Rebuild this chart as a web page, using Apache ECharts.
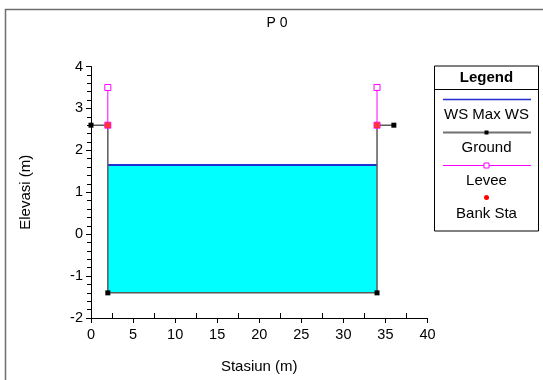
<!DOCTYPE html>
<html>
<head>
<meta charset="utf-8">
<script src="https://cdn.jsdelivr.net/npm/echarts@6/dist/echarts.min.js"></script>
<style>
html,body{margin:0;padding:0;background:#fff;}
#c{width:543px;height:380px;}
</style>
</head>
<body>
<div id="c"></div>
<script>
// ---- data ----
const chartTitle = 'P 0';
const xName = 'Stasiun (m)';
const yName = 'Elevasi (m)';
const groundX = [0, 2, 2, 34, 34, 36];
const groundY = [2.6, 2.6, -1.4, -1.4, 2.6, 2.6];
const leveeLeftX = [2, 2];
const leveeLeftY = [2.6, 3.5];
const leveeRightX = [34, 34];
const leveeRightY = [2.6, 3.5];
const bankX = [2, 34];
const bankY = [2.6, 2.6];
const wsX = [2, 34];
const wsY = [1.65, 1.65];
const wsBottom = -1.4;
const legendNames = ['WS Max WS', 'Ground', 'Levee', 'Bank Sta'];
const xTicks = [0, 5, 10, 15, 20, 25, 30, 35, 40];
const yTicks = [-2, -1, 0, 1, 2, 3, 4];

const FONT = '"Liberation Sans", Arial, sans-serif';
const pairs = (xs, ys) => xs.map((x, i) => [x, ys[i]]);

const chart = echarts.init(document.getElementById('c'), null, {renderer: 'canvas'});

const LX = 434.5, LW = 104, LY = 66, LH = 165, LC = LX + LW / 2;
const legendGraphics = [
  {type: 'rect', shape: {x: LX, y: LY, width: LW, height: LH}, style: {fill: '#fff', stroke: '#000', lineWidth: 1}, z: 10},
  {type: 'line', shape: {x1: LX, y1: 89.5, x2: LX + LW, y2: 89.5}, style: {stroke: '#000', lineWidth: 1}, z: 11},
  {type: 'text', x: LC, y: 77.5, style: {text: 'Legend', font: 'bold 15px ' + FONT, fill: '#000', align: 'center', verticalAlign: 'middle'}, z: 11},
  // WS
  {type: 'line', shape: {x1: 443, y1: 99.5, x2: 531, y2: 99.5}, style: {stroke: '#1f2fd0', lineWidth: 1.5}, z: 11},
  {type: 'text', x: LC, y: 114.5, style: {text: legendNames[0], font: '15px ' + FONT, fill: '#000', align: 'center', verticalAlign: 'middle'}, z: 11},
  // Ground
  {type: 'line', shape: {x1: 443, y1: 132.5, x2: 531, y2: 132.5}, style: {stroke: '#707070', lineWidth: 2}, z: 11},
  {type: 'rect', shape: {x: LC - 2, y: 130.5, width: 4, height: 4}, style: {fill: '#000'}, z: 12},
  {type: 'text', x: LC, y: 147.5, style: {text: legendNames[1], font: '15px ' + FONT, fill: '#000', align: 'center', verticalAlign: 'middle'}, z: 11},
  // Levee
  {type: 'line', shape: {x1: 443, y1: 165.5, x2: 531, y2: 165.5}, style: {stroke: '#ff00ff', lineWidth: 1}, z: 11},
  {type: 'rect', shape: {x: LC - 2.5, y: 163, width: 5, height: 5}, style: {fill: '#fff', stroke: '#ff00ff', lineWidth: 1}, z: 12},
  {type: 'text', x: LC, y: 180.5, style: {text: legendNames[2], font: '15px ' + FONT, fill: '#000', align: 'center', verticalAlign: 'middle'}, z: 11},
  // Bank Sta
  {type: 'circle', shape: {cx: LC, cy: 197.5, r: 2.5}, style: {fill: '#ff0000'}, z: 11},
  {type: 'text', x: LC, y: 213.5, style: {text: legendNames[3], font: '15px ' + FONT, fill: '#000', align: 'center', verticalAlign: 'middle'}, z: 11}
];

const option = {
  backgroundColor: '#fff',
  animation: false,
  textStyle: {fontFamily: FONT},
  grid: {left: 91, right: 115.5, top: 66.5, bottom: 62, containLabel: false},
  graphic: [
    {type: 'rect', shape: {x: 5.5, y: 9.5, width: 700, height: 500}, style: {fill: 'none', stroke: '#6e6e6e', lineWidth: 1.5}, z: 1},
    {type: 'text', x: 277, y: 23, style: {text: chartTitle, font: '14px ' + FONT, fill: '#000', align: 'center', verticalAlign: 'middle'}, z: 5}
  ].concat(legendGraphics),
  xAxis: [{
    type: 'value', min: xTicks[0], max: xTicks[xTicks.length - 1], interval: xTicks[1] - xTicks[0],
    name: xName, nameLocation: 'middle', nameGap: 41,
    nameTextStyle: {fontSize: 15, color: '#000', fontFamily: FONT},
    axisLine: {show: true, onZero: false, lineStyle: {color: '#000', width: 1}},
    axisTick: {show: true, length: 5, lineStyle: {color: '#000'}},
    axisLabel: {fontSize: 14.5, color: '#000', margin: 9, fontFamily: FONT},
    splitLine: {show: false}
  }, {
    type: 'value', position: 'bottom', min: xTicks[0], max: xTicks[xTicks.length - 1], interval: (xTicks[1] - xTicks[0]) / 2,
    axisLine: {show: false, onZero: false},
    axisTick: {show: true, inside: true, length: 5, lineStyle: {color: '#000'},
      customValues: xTicks.slice(0, -1).map(v => v + (xTicks[1] - xTicks[0]) / 2)},
    axisLabel: {show: false},
    splitLine: {show: false}
  }],
  yAxis: {
    type: 'value', min: yTicks[0], max: yTicks[yTicks.length - 1], interval: yTicks[1] - yTicks[0],
    name: yName, nameLocation: 'middle', nameGap: 58, nameRotate: 90,
    nameTextStyle: {fontSize: 15, color: '#000', fontFamily: FONT},
    axisLine: {show: true, onZero: false, lineStyle: {color: '#000', width: 1}},
    axisTick: {show: true, length: 5, lineStyle: {color: '#000'}},
    minorTick: {show: true, splitNumber: 5, length: 4, lineStyle: {color: '#000'}},
    axisLabel: {fontSize: 14.5, color: '#000', margin: 8, fontFamily: FONT},
    splitLine: {show: false}
  },
  series: [
    {
      name: 'WS fill', type: 'custom', xAxisIndex: 0, silent: true, z: 1,
      data: [[wsX[0], wsX[1], wsBottom, wsY[0]]],
      encode: {x: [0, 1], y: [2, 3]},
      renderItem: function (params, api) {
        const p1 = api.coord([api.value(0), api.value(3)]);
        const p2 = api.coord([api.value(1), api.value(2)]);
        return {type: 'rect', shape: {x: p1[0], y: p1[1], width: p2[0] - p1[0], height: p2[1] - p1[1]}, style: {fill: '#00ffff'}};
      }
    },
    {
      name: legendNames[0], type: 'line', xAxisIndex: 0, z: 3, showSymbol: false,
      data: pairs(wsX, wsY),
      lineStyle: {color: '#1f2fd0', width: 2}
    },
    {
      name: legendNames[1], type: 'line', xAxisIndex: 0, z: 4,
      data: pairs(groundX, groundY),
      symbol: 'rect', symbolSize: 5, showAllSymbol: true,
      itemStyle: {color: '#000'},
      lineStyle: {color: '#5a5a5a', width: 1.5}
    },
    {
      name: legendNames[2], type: 'line', xAxisIndex: 0, z: 5,
      data: pairs(leveeLeftX, leveeLeftY),
      symbol: 'rect', symbolSize: 6,
      itemStyle: {color: '#fff', borderColor: '#ff00ff', borderWidth: 1},
      lineStyle: {color: '#ff00ff', width: 1}
    },
    {
      name: legendNames[2] + ' R', type: 'line', xAxisIndex: 0, z: 5,
      data: pairs(leveeRightX, leveeRightY),
      symbol: 'rect', symbolSize: 6,
      itemStyle: {color: '#fff', borderColor: '#ff00ff', borderWidth: 1},
      lineStyle: {color: '#ff00ff', width: 1}
    },
    {
      name: legendNames[3], type: 'scatter', xAxisIndex: 0, z: 6,
      data: pairs(bankX, bankY),
      symbol: 'rect', symbolSize: 5.5,
      itemStyle: {color: '#ff0000'}
    }
  ]
};
chart.setOption(option);
</script>
</body>
</html>
